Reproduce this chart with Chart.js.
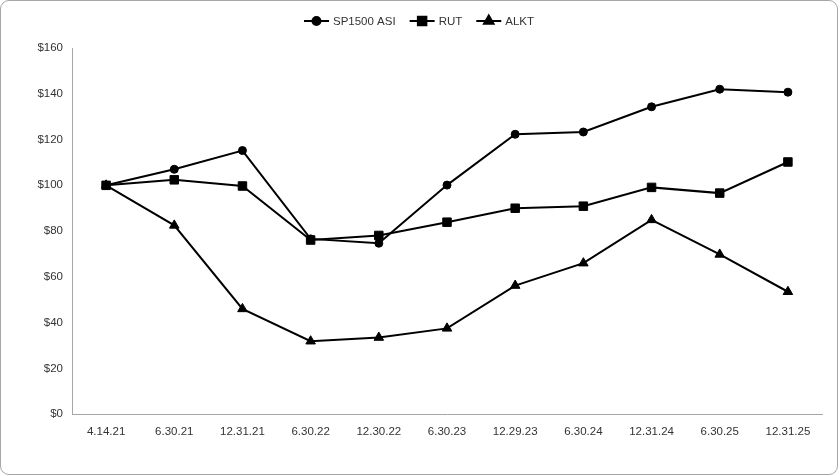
<!DOCTYPE html>
<html>
<head>
<meta charset="utf-8">
<script src="https://cdn.jsdelivr.net/npm/chart.js@4/dist/chart.umd.min.js"></script>
<style>
    html, body { margin: 0; padding: 0; background: #fff; }
    #frame {
        width: 838px; height: 475px; box-sizing: border-box;
        border: 1px solid #a6a6a6; border-radius: 9px; overflow: hidden;
    }
    #frame canvas { display: block; }
</style>
</head>
<body>
<div id="frame"><canvas id="perf-chart" width="836" height="473"></canvas></div>
<script>
// Period labels along the x axis
const periods = ["4.14.21", "6.30.21", "12.31.21", "6.30.22", "12.30.22", "6.30.23",
                 "12.29.23", "6.30.24", "12.31.24", "6.30.25", "12.31.25"];

// Value of $100 invested
const sp1500Values = [100, 107, 115.2, 76.6, 74.7, 100.1, 122.3, 123.3, 134.3, 142, 140.7];
const rutValues    = [100, 102.4, 99.7, 76.1, 78.1, 83.9, 90, 90.9, 99.1, 96.6, 110.2];
const alktValues   = [100, 82.5, 46, 31.9, 33.5, 37.5, 56.2, 66, 84.9, 69.8, 53.5];

const seriesNames  = ["SP1500 ASI", "RUT", "ALKT"];
const yTicks       = [0, 20, 40, 60, 80, 100, 120, 140, 160];

const FONT = "'Liberation Sans', Arial, sans-serif";
const FONT_SIZE = 11.5;
const TEXT = "#333333";

(function () {
    "use strict";

    // -------------------------------------------------------------------
    // Legend drawn as line + marker, like the spreadsheet one
    // -------------------------------------------------------------------
    const lineLegend = {
        id: "lineLegend",
        afterDraw(chart) {
            const ctx = chart.ctx;
            const sets = chart.data.datasets;
            const lineLen = 25, gapText = 4, gapItem = 14, y = 20;
            ctx.save();
            ctx.font = FONT_SIZE + "px " + FONT;
            ctx.textBaseline = "middle";
            const widths = sets.map((d) => lineLen + gapText + ctx.measureText(d.label).width);
            const total = widths.reduce((a, b) => a + b, 0) + gapItem * (sets.length - 1);
            let x = (chart.width - total) / 2;
            sets.forEach((d, i) => {
                ctx.strokeStyle = "#000";
                ctx.lineWidth = 2;
                ctx.beginPath();
                ctx.moveTo(x, y);
                ctx.lineTo(x + lineLen, y);
                ctx.stroke();
                ctx.fillStyle = "#000";
                Chart.helpers.drawPoint(ctx, {
                    pointStyle: d.pointStyle,
                    radius: d.pointRadius,
                    rotation: 0,
                    borderWidth: 1
                }, x + lineLen / 2, y);
                ctx.fillStyle = TEXT;
                ctx.fillText(d.label, x + lineLen + gapText, y + 1);
                x += widths[i] + gapItem;
            });
            ctx.restore();
        }
    };

    const styles = [
        { pointStyle: "circle",   pointRadius: 4 },
        { pointStyle: "rect",     pointRadius: 6 },
        { pointStyle: "triangle", pointRadius: 5.5 }
    ];
    const values = [sp1500Values, rutValues, alktValues];

    const datasets = seriesNames.map((name, i) => ({
        label: name,
        data: values[i],
        borderColor: "#000",
        backgroundColor: "#000",
        pointBackgroundColor: "#000",
        pointBorderColor: "#000",
        pointBorderWidth: 1,
        borderWidth: 2,
        tension: 0,
        pointStyle: styles[i].pointStyle,
        pointRadius: styles[i].pointRadius
    }));

    new Chart(document.getElementById("perf-chart").getContext("2d"), {
        type: "line",
        data: { labels: periods, datasets: datasets },
        options: {
            responsive: false,
            animation: false,
            devicePixelRatio: 1,
            layout: { padding: { top: 47, right: 15, bottom: 24, left: 0 } },
            plugins: {
                legend: { display: false },
                tooltip: { enabled: false }
            },
            scales: {
                x: {
                    offset: true,
                    grid: { drawOnChartArea: false, drawTicks: false },
                    border: { display: true, color: "#a6a6a6", width: 1 },
                    ticks: {
                        padding: 11,
                        maxRotation: 0,
                        autoSkip: false,
                        color: TEXT,
                        font: { family: FONT, size: FONT_SIZE }
                    }
                },
                y: {
                    min: 0,
                    max: 160,
                    afterFit(axis) { axis.width = 71; },
                    afterBuildTicks(axis) { axis.ticks = yTicks.map((v) => ({ value: v })); },
                    grid: { drawOnChartArea: false, drawTicks: false },
                    border: { display: true, color: "#a6a6a6", width: 1 },
                    ticks: {
                        padding: 9,
                        color: TEXT,
                        font: { family: FONT, size: FONT_SIZE },
                        callback: (v) => "$" + v
                    }
                }
            }
        },
        plugins: [lineLegend]
    });
})();
</script>
</body>
</html>
